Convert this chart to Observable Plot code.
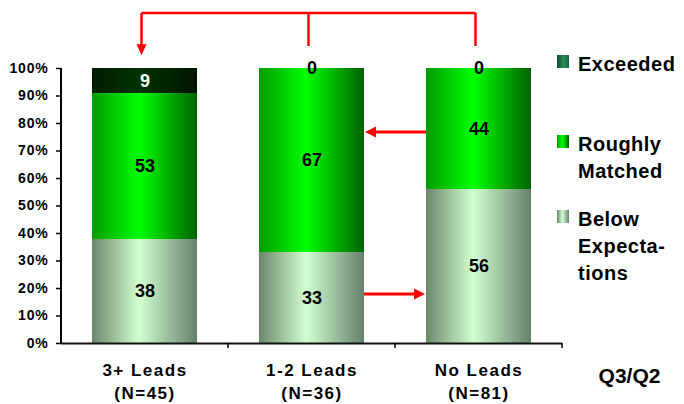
<!DOCTYPE html>
<html>
<head>
<meta charset="utf-8">
<script src="https://cdn.jsdelivr.net/npm/d3@7"></script>
<script src="https://cdn.jsdelivr.net/npm/@observablehq/plot@0.6"></script>
<style>
  html, body { margin: 0; padding: 0; background: #fff; }
  #chart svg { font-family: "Liberation Sans", Arial, sans-serif; font-weight: bold; overflow: visible; }
  g[aria-label="bar"] rect { shape-rendering: crispEdges; }
  g[aria-label="y-axis tick label"] text { letter-spacing: 0.8px; }
  g[aria-label="x-axis tick label"] text { letter-spacing: 1.5px; }
  g[aria-label="value"] text, g[aria-label="value-white"] text { letter-spacing: 2px; }
  g[aria-label="period"] text { letter-spacing: 0.3px; }
  g[aria-label="legend"] text { letter-spacing: 0.5px; text-anchor: start; }
</style>
</head>
<body>
<svg width="0" height="0" style="position:absolute">
  <defs>
    <linearGradient id="gBelow" x1="0" x2="1" y1="0" y2="0">
      <stop offset="0%" stop-color="#6b876b"/>
      <stop offset="45%" stop-color="#d2ffd2"/>
      <stop offset="100%" stop-color="#66806a"/>
    </linearGradient>
    <linearGradient id="gRough" x1="0" x2="1" y1="0" y2="0">
      <stop offset="0%" stop-color="#009c00"/>
      <stop offset="45%" stop-color="#00ff00"/>
      <stop offset="100%" stop-color="#006200"/>
    </linearGradient>
    <linearGradient id="gExc" x1="0" x2="1" y1="0" y2="0">
      <stop offset="0%" stop-color="#001c00"/>
      <stop offset="45%" stop-color="#003400"/>
      <stop offset="100%" stop-color="#001400"/>
    </linearGradient>
    <linearGradient id="gExcLegend" x1="0" x2="1" y1="0" y2="0">
      <stop offset="0%" stop-color="#0c4f2c"/>
      <stop offset="55%" stop-color="#2b8a56"/>
      <stop offset="100%" stop-color="#186a3e"/>
    </linearGradient>
  </defs>
</svg>
<div id="chart"></div>
<script>
// ---- data ----
const categories = ["3+ Leads", "1-2 Leads", "No Leads"];
const sampleSizes = [45, 36, 81];
const seriesNames = ["Below Expectations", "Roughly Matched", "Exceeded"];
const below = [38, 33, 56];
const roughly = [53, 67, 44];
const exceeded = [9, 0, 0];
const yTicks = [0, 10, 20, 30, 40, 50, 60, 70, 80, 90, 100];
const legendLabels = [["Exceeded"], ["Roughly", "Matched"], ["Below", "Expecta-", "tions"]];
const periodLabel = ["Q3/Q2"];
// annotation arrows (value positions in % of the y scale)
const shiftFrom = ["No Leads", "1-2 Leads"];
const shiftTo = ["1-2 Leads", "No Leads"];
const shiftLevel = [76.7, 17.8];
const bracketSources = ["1-2 Leads", "No Leads"];
const bracketTarget = "3+ Leads";
const bracketLevels = {top: 120, sourceEnd: 108, tip: 104.6};

// ---- styles / layout ----
const fills = {"Below Expectations": "url(#gBelow)", "Roughly Matched": "url(#gRough)", "Exceeded": "url(#gExc)"};
const legendFills = ["url(#gExcLegend)", "url(#gRough)", "url(#gBelow)"];
const legendTops = [55, 135, 210];
const RED = "#ff0000";

// build stacked rows
const seriesValues = [below, roughly, exceeded];
const rows = [];
categories.forEach((c, i) => {
  let base = 0;
  seriesNames.forEach((s, k) => {
    const v = seriesValues[k][i];
    rows.push({cat: c, series: s, value: v, y1: base, y2: base + v});
    base += v;
  });
});
const xLabel = d => { const i = categories.indexOf(d); return `${d}\n(N=${sampleSizes[i]})`; };

function overlay(index, scales, values, dim) {
  const x = scales.x, y = scales.y;
  const bw = x.bandwidth(), step = x.step();
  const cx = c => x(c) + bw / 2;
  const g = d3.create("svg:g");
  const left = dim.marginLeft;
  // y axis line
  g.append("line").attr("x1", left).attr("x2", left).attr("y1", y(0) + 1).attr("y2", y(100))
    .attr("stroke", "#000").attr("stroke-width", 2);
  // band boundary ticks on x axis
  categories.forEach(c => {
    const xb = cx(c) + step / 2;
    g.append("line").attr("x1", xb).attr("x2", xb).attr("y1", y(0)).attr("y2", y(0) + 5)
      .attr("stroke", "#000").attr("stroke-width", 1.5);
  });
  // horizontal shift arrows
  shiftFrom.forEach((f, i) => {
    const t = shiftTo[i];
    const dir = Math.sign(cx(t) - cx(f));
    const xs = cx(f) + dir * (bw / 2);
    const xt = cx(t) - dir * (bw / 2 + 1);
    const yy = y(shiftLevel[i]);
    g.append("line").attr("x1", xs).attr("x2", xt - dir * 9).attr("y1", yy).attr("y2", yy)
      .attr("stroke", RED).attr("stroke-width", 3);
    g.append("path").attr("d", `M${xt},${yy}L${xt - dir * 11},${yy - 5.5}L${xt - dir * 11},${yy + 5.5}Z`)
      .attr("fill", RED);
  });
  // bracket arrow
  const yTop = y(bracketLevels.top);
  const xs = [bracketTarget, ...bracketSources].map(c => cx(c) - 3);
  g.append("path").attr("d", `M${d3.min(xs)},${yTop}H${d3.max(xs)}`).attr("stroke", RED)
    .attr("stroke-width", 2.5).attr("fill", "none");
  bracketSources.forEach(c => {
    const xx = cx(c) - 3;
    g.append("line").attr("x1", xx).attr("x2", xx).attr("y1", yTop).attr("y2", y(bracketLevels.sourceEnd))
      .attr("stroke", RED).attr("stroke-width", 2.5);
  });
  const xd = cx(bracketTarget) - 3, yTip = y(bracketLevels.tip);
  g.append("line").attr("x1", xd).attr("x2", xd).attr("y1", yTop).attr("y2", yTip - 9)
    .attr("stroke", RED).attr("stroke-width", 2.5);
  g.append("path").attr("d", `M${xd},${yTip}L${xd - 5},${yTip - 11}L${xd + 5},${yTip - 11}Z`).attr("fill", RED);
  // legend
  const lg = g.append("g").attr("aria-label", "legend").attr("text-anchor", "start");
  legendLabels.forEach((lines, i) => {
    const top = legendTops[i];
    lg.append("rect").attr("x", 557).attr("y", top).attr("width", 12).attr("height", 13)
      .attr("fill", legendFills[i]);
    lines.forEach((ln, j) => {
      lg.append("text").attr("x", 578).attr("y", top + 16 + j * 27).attr("text-anchor", "start")
        .attr("font-size", 20).attr("font-weight", "bold").attr("fill", "#000").text(ln);
    });
  });
  return g.node();
}

const chart = Plot.plot({
  width: 684,
  height: 404,
  marginLeft: 61,
  marginRight: 122,
  marginTop: 68,
  marginBottom: 61,
  x: {domain: categories, paddingInner: 0.37, paddingOuter: 0.185, label: null},
  y: {domain: [0, 100], label: null},
  marks: [
    ...seriesNames.map(s => Plot.barY(rows.filter(r => r.series === s), {
      x: "cat", y1: "y1", y2: "y2", fill: fills[s]
    })),
    Plot.ruleY([0], {stroke: "#111", strokeWidth: 2}),
    Plot.axisY({ticks: yTicks, tickFormat: d => d + "%", tickSize: 5, tickPadding: 8,
      fontSize: 14, fontWeight: "bold", strokeWidth: 1.5}),
    Plot.axisX({tickSize: 0, tickPadding: 16, tickFormat: xLabel, fontSize: 17,
      fontWeight: "bold", lineHeight: 1.35}),
    Plot.text(rows.filter(r => !(r.series === "Exceeded" && r.value > 0)), {
      x: "cat", y: d => (d.y1 + d.y2) / 2, text: d => String(d.value),
      fill: "#000", fontSize: 18, fontWeight: "bold", ariaLabel: "value"
    }),
    Plot.text(rows.filter(r => r.series === "Exceeded" && r.value > 0), {
      x: "cat", y: d => (d.y1 + d.y2) / 2, text: d => String(d.value),
      fill: "#fff", fontSize: 18, fontWeight: "bold", ariaLabel: "value-white"
    }),
    Plot.text(periodLabel, {frameAnchor: "bottom-right", dx: 67, dy: 39, fontSize: 21,
      fontWeight: "bold", textAnchor: "middle", fill: "#000", ariaLabel: "period"}),
    overlay
  ]
});
document.getElementById("chart").append(chart);
</script>
</body>
</html>
